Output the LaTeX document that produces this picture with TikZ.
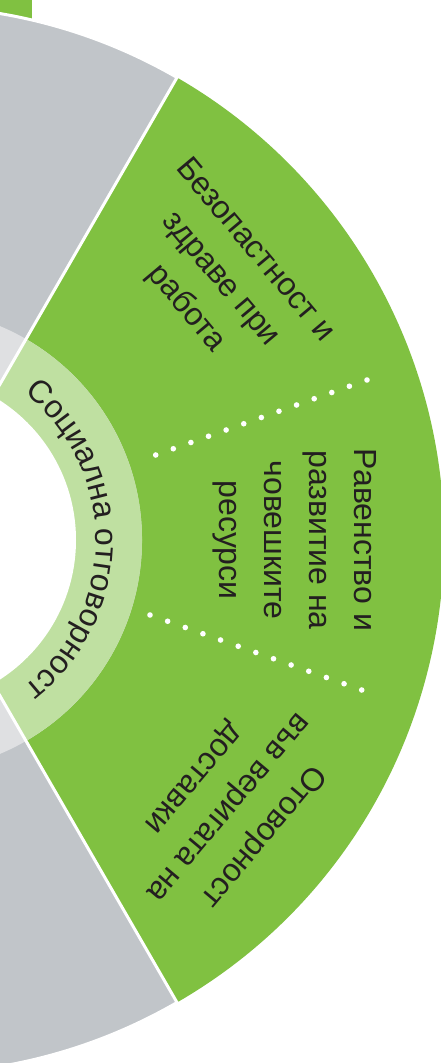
\documentclass[tikz,border=0pt]{standalone}
\usepackage{fontspec}
\setmainfont{Liberation Sans}
\usetikzlibrary{decorations.text}
\definecolor{mgreen}{HTML}{80C141}
\definecolor{lgreen}{HTML}{BFE0A1}
\definecolor{mgray}{HTML}{C1C5C9}
\definecolor{lgray}{HTML}{DFE0E2}
\definecolor{txt}{HTML}{231F20}
\tikzset{
  sectortext/.style={text=txt, align=center, inner sep=0pt, font=\fontsize{32}{45}\selectfont},
  sepline/.style={draw=white, line width=3pt},
  dotwhite/.style={fill=white}
}
\begin{document}
\begin{tikzpicture}[x=1pt,y=1pt]
\useasboundingbox (90,-523) rectangle (531,540);
% partial green element at top left
\fill[mgreen] (90,540) rectangle (122,505);
% gray full disc with white rim
\filldraw[fill=mgray, draw=white, line width=3pt] (0,0) circle (534);
% green sector
\fill[mgreen] (0,0) -- (-60:534) arc[start angle=-60, end angle=60, radius=534] -- cycle;
% rings
\fill[lgray] (0,0) circle (232);
\fill[lgreen] (0,0) -- (-60:232) arc[start angle=-60, end angle=60, radius=232] -- cycle;
\fill[white] (0,0) circle (166);
% separators
\coordinate (c) at (0,0);
\coordinate (s1) at (60:540);
\coordinate (s2) at (-60:540);
\draw[sepline] (c) -- (s1);
\draw[sepline] (c) -- (s2);
% dotted dividers
\foreach \i in {0,...,12} {
  \fill[dotwhite] ({245.7+\i*(457-245.7)/12},{85+\i*(160-85)/12}) circle (2.8);
  \fill[dotwhite] ({240+\i*(451.7-240)/12},{-75-\i*(150-75)/12}) circle (2.8);
}
% ring text
\path[decorate, decoration={text along path, text align=center,
  text color=txt,
  text={|\fontsize{32}{32}\selectfont|Социална отговорност}}]
  (56:186) arc[start angle=56, end angle=-56, radius=186];
% sector texts
\node[sectortext, rotate=-50] (t1) at (40:405) {Безопастност и\\здраве при\\работа};
\node[sectortext, rotate=-90] (t2) at (0:385) {Равенство и\\развитие на\\човешките\\ресурси};
\node[sectortext, rotate=-130] (t3) at (-40:415) {Отоворност\\във веригата на\\доставки};
\end{tikzpicture}
\end{document}
